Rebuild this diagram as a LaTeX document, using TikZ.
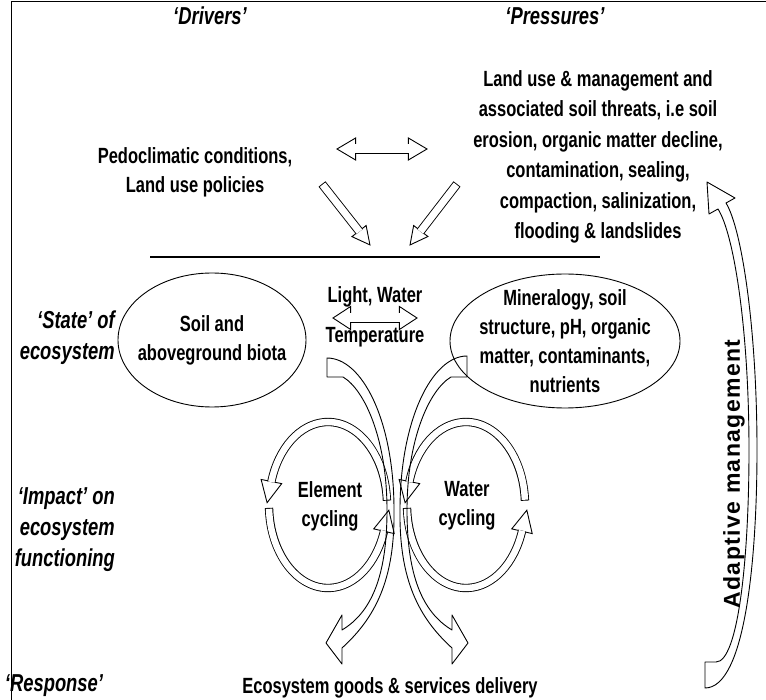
\documentclass[tikz,border=0pt]{standalone}
\usepackage{fontspec}
\setmainfont{Liberation Sans}[FakeStretch=0.75]
\newfontfamily\amfont{Liberation Sans}[LetterSpace=6]
\usetikzlibrary{shapes.geometric, decorations.markings, calc, positioning}

\tikzstyle{txt} = [font=\fontsize{22}{29}\selectfont\bfseries, align=center, inner sep=0pt]
\tikzstyle{tag} = [font=\fontsize{24.5}{31}\selectfont\bfseries\itshape, align=right, inner sep=0pt]
\tikzstyle{state} = [txt, ellipse, draw=black, line width=0.9pt, inner sep=-20pt]
\tikzstyle{flow} = [draw=black, line width=0.9pt, line join=round]
\tikzset{
  band/.style={line width=#1+1.8pt, postaction={draw=white, line width=#1, shorten <=0.9pt}},
  band/.default=8pt,
  pipe/.style={line width=#1+1.8pt, postaction={draw=white, line width=#1}},
  pipe/.default=8pt,
  head/.style 2 args={decoration={markings, mark=at position 1 with {\draw[line width=0.9pt, fill=white] (-0.6pt,-#2) -- (#1,0pt) -- (-0.6pt,#2) -- cycle;}}, preaction={decorate}},
  bothheads/.style 2 args={decoration={markings,
      mark=at position 0 with {\draw[line width=0.9pt, fill=white] (0.6pt,-#2) -- (-#1,0pt) -- (0.6pt,#2) -- cycle;},
      mark=at position 1 with {\draw[line width=0.9pt, fill=white] (-0.6pt,-#2) -- (#1,0pt) -- (-0.6pt,#2) -- cycle;}}, preaction={decorate}}
}

\begin{document}
\begin{tikzpicture}[x=1pt, y=-1pt, node distance=40pt]
	\useasboundingbox (0,0) rectangle (766,700);
	% frame
	\draw[line width=1pt] (11,700) -- (11,2) -- (766,2);
	
	% drivers and pressures
	\node[tag] (drivers) at (210,16) {‘Drivers’};
	\node[tag] (pressures) at (555,16) {‘Pressures’};
	\node[txt, font=\fontsize{22}{30.5}\selectfont\bfseries] (threats) at (598,157) {Land use \& management and\\associated soil threats, i.e soil\\erosion, organic matter decline,\\contamination, sealing,\\compaction, salinization,\\flooding \& landslides};
	\node[txt] (pedo) at (195,172) {Pedoclimatic conditions,\\Land use policies};
	
	\coordinate (pedoR) at (337,149);
	\coordinate (threatL) at (427,149);
	\coordinate (dA) at (322,184);
	\coordinate (dAtip) at (370,245);
	\coordinate (pA) at (457,184);
	\coordinate (pAtip) at (410,245);
	\coordinate (sepL) at (150,257);
	\coordinate (sepR) at (600,257);
	
	\draw[pipe=9pt, bothheads={18pt}{11pt}] ($(pedoR)!18pt!(threatL)$) -- ($(threatL)!18pt!(pedoR)$);
	\draw[band=7pt, head={17pt}{9pt}] (dA) -- ($(dAtip)!17pt!(dA)$);
	\draw[band=7pt, head={17pt}{9pt}] (pA) -- ($(pAtip)!17pt!(pA)$);
	\draw[line width=2.6pt] (sepL) -- (sepR);
	
	% state of ecosystem
	\node[tag, anchor=east] (state) at (115,338) {‘State’ of\\ecosystem};
	\node[state, minimum width=188pt, minimum height=134pt] (biota) at (212,340) {Soil and\\aboveground biota};
	\node[state, minimum width=230pt, minimum height=134pt] (mineral) at (565,341) {Mineralogy, soil\\structure, pH, organic\\matter, contaminants,\\nutrients};
	\node[txt] (light) at (375,297) {Light, Water};
	\node[txt, below of=light] (temper) {Temperature};
	\coordinate (lwL) at (333,318);
	\coordinate (lwR) at (417,318);
	\draw[pipe=9pt, bothheads={17pt}{11.5pt}] ($(lwL)!17pt!(lwR)$) -- ($(lwR)!17pt!(lwL)$);
	
	% impact on functioning
	\node[tag, anchor=east] (impact) at (115,530) {‘Impact’ on\\ecosystem\\functioning};
	\coordinate (ec) at (328,505);
	\coordinate (wc) at (466,505);
	\draw[band=6.5pt, head={21pt}{10.5pt}] ($(ec)+(-3:59 and 83)$) arc[start angle=-3, end angle=-164, x radius=59, y radius=83];
	\draw[band=6.5pt, head={21pt}{10.5pt}] ($(ec)+(-182:59 and 83)$) arc[start angle=-182, end angle=-342, x radius=59, y radius=83];
	\draw[band=6.5pt, head={21pt}{10.5pt}] ($(wc)+(-3:59 and 83)$) arc[start angle=-3, end angle=-164, x radius=59, y radius=83];
	\draw[band=6.5pt, head={21pt}{10.5pt}] ($(wc)+(-182:59 and 83)$) arc[start angle=-182, end angle=-342, x radius=59, y radius=83];
	\node[txt] (element) at (330,506) {Element\\cycling};
	\node[txt] (water) at (467,506) {Water\\cycling};
	
	% flows down to the response
	\draw[flow] (327,358) .. controls (362,358) and (394,420) .. (394,510)
		.. controls (395,580) and (375,618) .. (342,648) -- (342,664) -- (326,643) -- (342,615) -- (342,630)
		.. controls (372,612) and (387,575) .. (387,510)
		.. controls (387,440) and (365,390) .. (343,377) -- (327,377) -- cycle;
	\draw[flow] (467,356) .. controls (432,356) and (400,420) .. (400,510)
		.. controls (399,580) and (419,618) .. (452,648) -- (452,664) -- (468,643) -- (452,615) -- (452,630)
		.. controls (422,612) and (407,575) .. (407,510)
		.. controls (407,440) and (429,390) .. (451,377) -- (467,377) -- cycle;
	
	% response
	\node[tag] (response) at (54,686) {‘Response’};
	\node[txt] (goods) at (390,688) {Ecosystem goods \& services delivery};
	
	% adaptive management
	\draw[flow] (705,688) .. controls (745,688) and (757,560) .. (757,450)
		.. controls (757,330) and (742,229) .. (726,203) -- (735,198) -- (707,182) -- (709,214) -- (718,209)
		.. controls (734,234) and (749,330) .. (749,450)
		.. controls (749,560) and (738,662) .. (716,662) -- (705,662) -- cycle;
	\node[font=\amfont\fontsize{23}{25}\selectfont\bfseries, rotate=90, inner sep=0pt] (adapt) at (734,474) {Adaptive management};
\end{tikzpicture}
\end{document}
